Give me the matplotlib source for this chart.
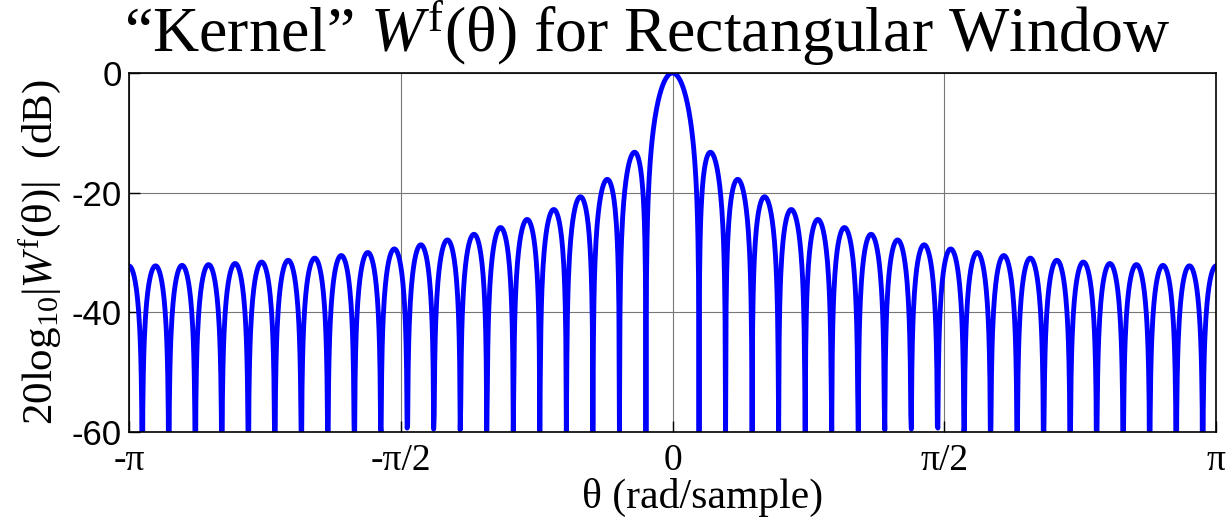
import numpy as np
import matplotlib
matplotlib.use("Agg")
import matplotlib.pyplot as plt

# rectangular window: nulls every 2*pi/41 -> 41 taps of ones
window = [1.0] * 41
n_fft = 2048

xtick_vals = [-np.pi, -np.pi / 2, 0, np.pi / 2, np.pi]
xtick_labels = ["-\u03c0", "-\u03c0/2", "0", "\u03c0/2", "\u03c0"]
ytick_vals = [0, -20, -40, -60]

plt.rcParams["mathtext.fontset"] = "custom"
plt.rcParams["mathtext.rm"] = "Liberation Serif"
plt.rcParams["mathtext.it"] = "Liberation Serif:italic"

# kernel = DTFT of the window, sampled on a fine grid
W = np.fft.fftshift(np.fft.fft(np.array(window), n_fft))
theta = np.linspace(-np.pi, np.pi, n_fft, endpoint=False)
W_db = 20 * np.log10(np.abs(W) / np.abs(W).max() + 1e-12)

fig = plt.figure(figsize=(12.32, 5.19), dpi=100)
ax = fig.add_axes([129 / 1232, 1 - 432 / 519, 1087 / 1232, 359 / 519])

ax.plot(theta, W_db, color="#0000ff", linewidth=3.5)

ax.set_xlim(-np.pi, np.pi)
ax.set_ylim(-60, 0)
ax.set_xticks(xtick_vals)
ax.set_xticklabels(xtick_labels, fontname="Liberation Serif", fontsize=27)
ax.set_yticks(ytick_vals)
ax.set_yticklabels([str(v) for v in ytick_vals], fontname="Liberation Sans", fontsize=25)
ax.tick_params(direction="in", length=8, width=1)
ax.tick_params(axis="x", pad=8)
ax.tick_params(axis="y", pad=5)
ax.grid(True, color="#777777", linewidth=0.8)
for s in ax.spines.values():
    s.set_linewidth(1.2)

ttl = ax.set_title("\u201cKernel\u201d $\\mathit{W}^{\\mathrm{f}}$(\u03b8) for Rectangular Window",
                   fontname="Liberation Serif", fontsize=46, pad=15)
ttl.set_x(0.4766)
ax.set_xlabel("\u03b8 (rad/sample)", fontname="Liberation Serif", fontsize=30)
ax.xaxis.set_label_coords(0.528, -0.128)
ax.xaxis.label.set_va("top")
ax.set_ylabel("$\\mathrm{20log_{10}|}\\mathit{W}^{\\mathrm{f}}\\mathrm{(\u03b8)|}$  (dB)",
              fontname="Liberation Serif", fontsize=31, labelpad=6)

fig.savefig("out.png", dpi=100)
